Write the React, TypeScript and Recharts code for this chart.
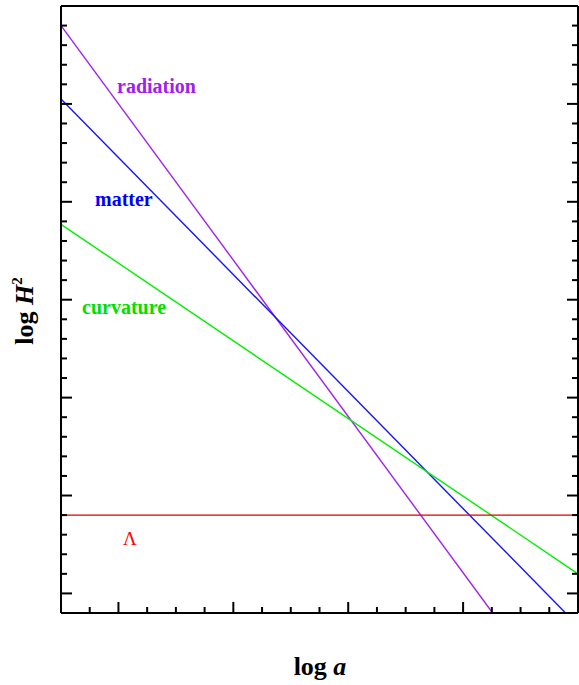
import { Line, LineChart, XAxis, YAxis } from "recharts";

// log a  vs  log H^2 (arbitrary units)
const radiation = [
  { loga: -0.5, logH2: 5.8 },
  { loga: 3.257, logH2: -0.2 },
];
const matter = [
  { loga: -0.5, logH2: 5.05 },
  { loga: 3.892, logH2: -0.2 },
];
const curvature = [
  { loga: -0.5, logH2: 3.77 },
  { loga: 4.0, logH2: 0.2 },
];
const lambda = [
  { loga: -0.5, logH2: 0.8 },
  { loga: 4.0, logH2: 0.8 },
];

const xDomain = [-0.5, 4.0];
const yDomain = [-0.2, 6.0];
const xMajorTicks = [0, 1, 2, 3];
const xTicks = [
  -0.25, 0, 0.25, 0.5, 0.75, 1, 1.25, 1.5, 1.75, 2, 2.25, 2.5, 2.75, 3, 3.25,
  3.5, 3.75,
];
const yMajorTicks = [0, 1, 2, 3, 4, 5];
const yTicks = [
  0, 0.2, 0.4, 0.6, 0.8, 1, 1.2, 1.4, 1.6, 1.8, 2, 2.2, 2.4, 2.6, 2.8, 3, 3.2,
  3.4, 3.6, 3.8, 4, 4.2, 4.4, 4.6, 4.8, 5, 5.2, 5.4, 5.6, 5.8,
];

const labels = [
  { text: "radiation", color: "#a020f0", x: 117, y: 93 },
  { text: "matter", color: "#0000ff", x: 95, y: 206 },
  { text: "curvature", color: "#00e000", x: 82, y: 314 },
];

const serif = "'Liberation Serif', 'Times New Roman', serif";

function inwardTick(side: "bottom" | "top" | "left" | "right", majors: number[]) {
  return (props: any) => {
    const { x, y, payload } = props;
    const major = majors.some((m) => Math.abs(m - payload.value) < 1e-6);
    const len = major ? 11 : 6;
    let x2 = x;
    let y2 = y;
    if (side === "bottom") y2 = y - len;
    if (side === "top") y2 = y + len;
    if (side === "left") x2 = x + len;
    if (side === "right") x2 = x - len;
    return <line x1={x} y1={y} x2={x2} y2={y2} stroke="#000" strokeWidth={2} />;
  };
}

const axisLine = { stroke: "#000", strokeWidth: 2 };

export default function App() {
  return (
    <div style={{ position: "absolute", left: 0, top: 0, width: 579, height: 685, background: "#fff" }}>
      <LineChart width={579} height={685} margin={{ top: 5, right: 0, bottom: 71, left: 60 }}>
        <XAxis
          xAxisId="x"
          type="number"
          dataKey="loga"
          domain={xDomain}
          ticks={xTicks}
          interval={0}
          allowDataOverflow
          height={1}
          tickSize={0}
          tickMargin={0}
          tickLine={false}
          axisLine={axisLine}
          tick={inwardTick("bottom", xMajorTicks)}
        />
        <XAxis
          xAxisId="top"
          orientation="top"
          type="number"
          domain={xDomain}
          ticks={xTicks}
          interval={0}
          allowDataOverflow
          height={1}
          tickSize={0}
          tickMargin={0}
          tickLine={false}
          axisLine={axisLine}
          tick={inwardTick("top", xMajorTicks)}
        />
        <YAxis
          yAxisId="y"
          type="number"
          domain={yDomain}
          ticks={yTicks}
          interval={0}
          allowDataOverflow
          width={1}
          tickSize={0}
          tickMargin={0}
          tickLine={false}
          axisLine={axisLine}
          tick={inwardTick("left", yMajorTicks)}
        />
        <YAxis
          yAxisId="right"
          orientation="right"
          type="number"
          domain={yDomain}
          ticks={yTicks}
          interval={0}
          allowDataOverflow
          width={1}
          tickSize={0}
          tickMargin={0}
          tickLine={false}
          axisLine={axisLine}
          tick={inwardTick("right", yMajorTicks)}
        />
        <Line xAxisId="x" yAxisId="y" data={radiation} dataKey="logH2" stroke="#a020f0" strokeWidth={1.4} dot={false} isAnimationActive={false} />
        <Line xAxisId="x" yAxisId="y" data={matter} dataKey="logH2" stroke="#1414ff" strokeWidth={1.4} dot={false} isAnimationActive={false} />
        <Line xAxisId="x" yAxisId="y" data={curvature} dataKey="logH2" stroke="#00ee00" strokeWidth={1.4} dot={false} isAnimationActive={false} />
        <Line xAxisId="x" yAxisId="y" data={lambda} dataKey="logH2" stroke="#e00000" strokeWidth={1.4} dot={false} isAnimationActive={false} />
      </LineChart>
      <svg width={579} height={685} style={{ position: "absolute", left: 0, top: 0, pointerEvents: "none" }}>
        {labels.map((l) => (
          <text key={l.text} x={l.x} y={l.y} fill={l.color} fontFamily={serif} fontWeight="bold" fontSize={20}>
            {l.text}
          </text>
        ))}
        <text x={123} y={545} fill="#ff0000" fontFamily={serif} fontSize={19}>
          Λ
        </text>
        <text x={320} y={675} textAnchor="middle" fontFamily={serif} fontWeight="bold" fontSize={26} fill="#000">
          log <tspan fontStyle="italic">a</tspan>
        </text>
        <text
          x={33}
          y={311}
          textAnchor="middle"
          transform="rotate(-90 33 311)"
          fontFamily={serif}
          fontWeight="bold"
          fontSize={26}
          fill="#000"
        >
          log <tspan fontStyle="italic">H</tspan>
          <tspan fontSize={15} dy={-11}>2</tspan>
        </text>
      </svg>
    </div>
  );
}
